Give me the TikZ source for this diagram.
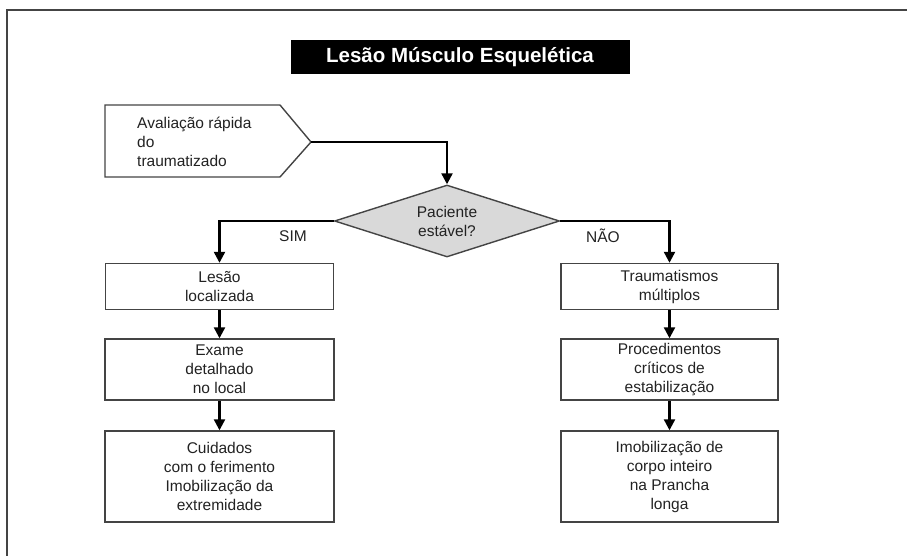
\documentclass[tikz,border=0pt]{standalone}
\usepackage{fontspec}
\setmainfont{Liberation Sans}
\usetikzlibrary{shapes.geometric,arrows.meta}
\definecolor{linegray}{HTML}{444444}
\definecolor{txtgray}{HTML}{222222}
\definecolor{diafill}{HTML}{D9D9D9}
\begin{document}
\begin{tikzpicture}[x=1pt,y=-1pt,
  txt/.style={font=\fontsize{15.5}{19}\selectfont, text=txtgray},
  box/.style={txt, draw=linegray, line width=1.4pt, rectangle, align=center, inner sep=0pt},
  arr/.style={line width=2.3pt, draw=black, -{Triangle[length=11pt,width=11pt]}}]
\useasboundingbox (0,0) rectangle (907,556);
% frame
\draw[line width=2pt, linegray] (7,556) -- (7,10) -- (907,10);
% title
\node[fill=black, text=white, minimum width=339pt, minimum height=34pt, inner sep=0pt,
      font=\fontsize{20.5}{22}\selectfont\bfseries] (title) at (460,57) {Lesão Músculo Esquelética};
% pentagon
\coordinate (tip) at (311,142);
\draw[line width=1.4pt, linegray, line join=miter] (105,105) -- (280,105) -- (tip) -- (280,177) -- (105,177) -- cycle;
\node[txt, align=left, anchor=west, inner sep=0pt] (aval) at (137,142) {Avaliação rápida\\do\\traumatizado};
% diamond
\node[txt, diamond, aspect=3, draw=linegray, line width=1.4pt, fill=diafill, inner sep=0pt,
      minimum width=225pt, minimum height=72pt, align=center] (dia) at (447,221) {Paciente\\estável?};
% left column
\node[box, minimum width=228pt, minimum height=46pt] (l1) at (219.5,286.5) {Lesão\\localizada};
\node[box, minimum width=229pt, minimum height=61pt] (l2) at (219.5,369.5) {Exame\\detalhado\\no local};
\node[box, minimum width=229pt, minimum height=91pt] (l3) at (219.5,476.5) {Cuidados\\com o ferimento\\Imobilização da\\extremidade};
% right column
\node[box, minimum width=217pt, minimum height=46pt] (r1) at (669.5,286.5) {Traumatismos\\múltiplos};
\node[box, minimum width=217pt, minimum height=61pt] (r2) at (669.5,369.5) {Procedimentos\\críticos de\\estabilização};
\node[box, minimum width=217pt, minimum height=91pt] (r3) at (669.5,476.5) {Imobilização de\\corpo inteiro\\na Prancha\\longa};
% connectors
\draw[arr] (tip) -| (dia.north);
\draw[arr] (dia.west) -| (l1.north);
\draw[arr] (dia.east) -| (r1.north);
\draw[arr] (l1) -- (l2);
\draw[arr] (l2) -- (l3);
\draw[arr] (r1) -- (r2);
\draw[arr] (r2) -- (r3);
% labels
\node[txt] (sim) at (293,236) {SIM};
\node[txt] (nao) at (603,236) {NÃO};
\end{tikzpicture}
\end{document}
